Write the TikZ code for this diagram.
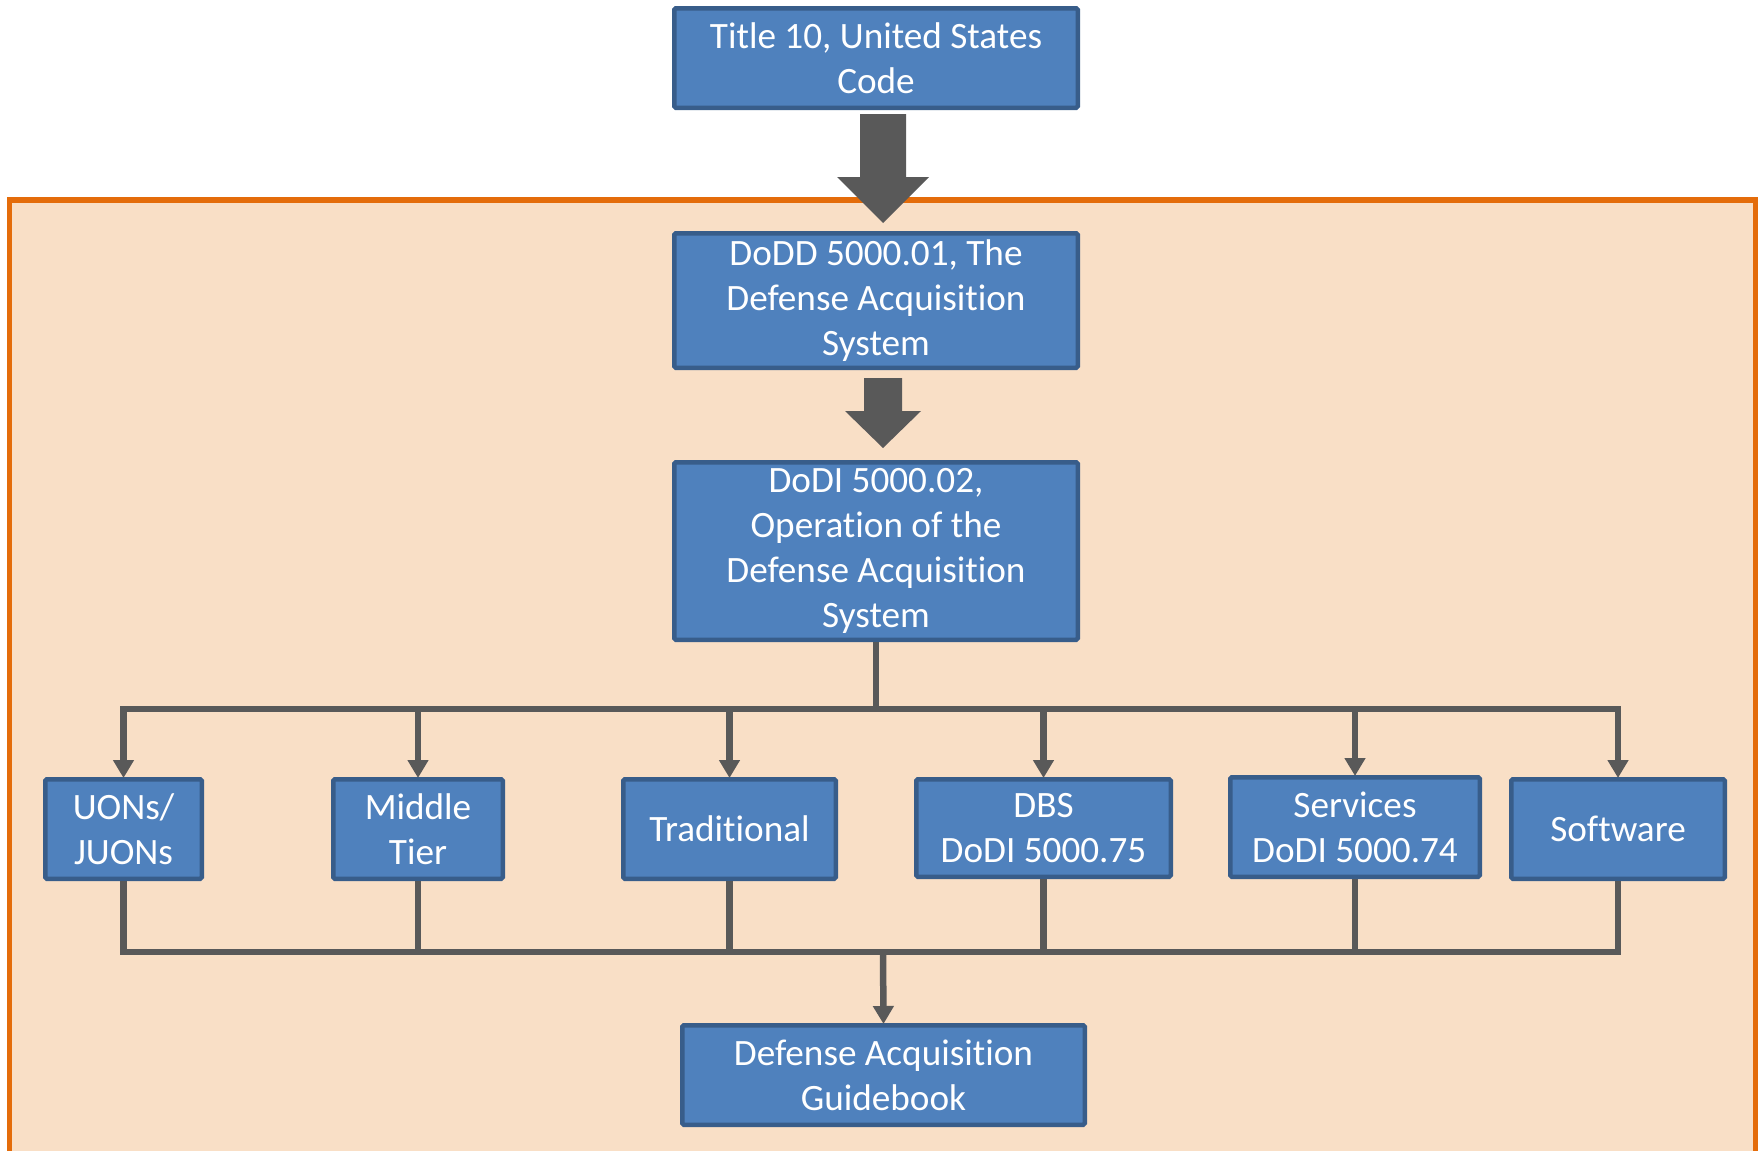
\documentclass[tikz,border=0pt]{standalone}
\usepackage{fontspec}
\setmainfont{Carlito}[Ligatures={NoCommon}]
\usetikzlibrary{arrows.meta,calc}

\definecolor{boxfill}{HTML}{4F81BD}
\definecolor{boxline}{HTML}{385D8A}
\definecolor{connclr}{HTML}{595959}
\definecolor{zoneline}{HTML}{E46C0A}
\definecolor{zonefill}{HTML}{F9DFC6}

\tikzset{
  docbox/.style={draw=boxline, fill=boxfill, line width=4.5pt, rounded corners=1.5pt,
    text=white, align=center, inner sep=0pt,
    font={\fontsize{37.2}{45}\selectfont}},
  conn/.style={draw=connclr, line width=6.5pt},
  connarrow/.style={conn, -{Triangle[width=20pt,length=18pt]}, shorten >=-1pt},
  blockarrow/.style={fill=connclr, draw=none},
}

\begin{document}
\begin{tikzpicture}[x=1pt,y=-1pt]
  \useasboundingbox (0,0) rectangle (1759,1151);
  \clip (0,0) rectangle (1759,1151);

  % shaded DoD policy zone, open at the bottom edge
  \draw[draw=zoneline, fill=zonefill, line width=5.5pt]
    (9.5,200) rectangle (1755.5,1170);

  % top-level documents
  \node[docbox, minimum width=403.5pt, minimum height=99.5pt] (title) at (876,58)
    {Title 10, United States\\Code};
  \node[docbox, minimum width=403.5pt, minimum height=134.5pt] (dodd) at (876,300.5)
    {DoDD 5000.01, The\\Defense Acquisition\\System};
  \node[docbox, minimum width=403.5pt, minimum height=177.5pt] (dodi) at (876,551)
    {DoDI 5000.02,\\Operation of the\\Defense Acquisition\\System};

  % block arrows between the top-level documents
  \fill[blockarrow] (860,114) -- (906,114) -- (906,177) -- (929,177) -- (883,223)
    -- (837,177) -- (860,177) -- cycle;
  \fill[blockarrow] (864,378) -- (902,378) -- (902,411) -- (921,411) -- (883,448)
    -- (845,411) -- (864,411) -- cycle;

  % acquisition pathways
  \node[docbox, minimum width=156.5pt, minimum height=99.5pt] (uons) at (123.5,829)
    {UONs/\\JUONs};
  \node[docbox, minimum width=169.5pt, minimum height=99.5pt] (mid) at (418,829)
    {Middle\\Tier};
  \node[docbox, minimum width=212.5pt, minimum height=99.5pt] (trad) at (729.5,829)
    {Traditional};
  \node[docbox, minimum width=254.5pt, minimum height=97.5pt] (dbs) at (1043.5,828)
    {DBS\\DoDI 5000.75};
  \node[docbox, minimum width=249.5pt, minimum height=99.5pt] (serv) at (1355,827)
    {Services\\DoDI 5000.74};
  \node[docbox, minimum width=213.5pt, minimum height=99.5pt] (soft) at (1618,829)
    {Software};

  \node[docbox, minimum width=402.5pt, minimum height=99.5pt] (guide) at (883.5,1075)
    {Defense Acquisition\\Guidebook};

  % distribution bus from DoDI 5000.02
  \coordinate (busA) at (876,709);
  \draw[conn] (dodi.south) -- (busA);
  \draw[conn, line cap=rect] (uons.north |- busA) -- (soft.north |- busA);
  \foreach \n in {uons,mid,trad,dbs,serv,soft}
    \draw[connarrow] (\n.north |- busA) -- (\n.north);

  % collection bus into the guidebook
  \coordinate (busB) at (883,952);
  \foreach \n in {uons,mid,trad,dbs,serv,soft}
    \draw[conn] (\n.south) -- (\n.south |- busB);
  \draw[conn, line cap=rect] (uons.south |- busB) -- (soft.south |- busB);
  \draw[connarrow] (busB) -- (guide.north);
\end{tikzpicture}
\end{document}
